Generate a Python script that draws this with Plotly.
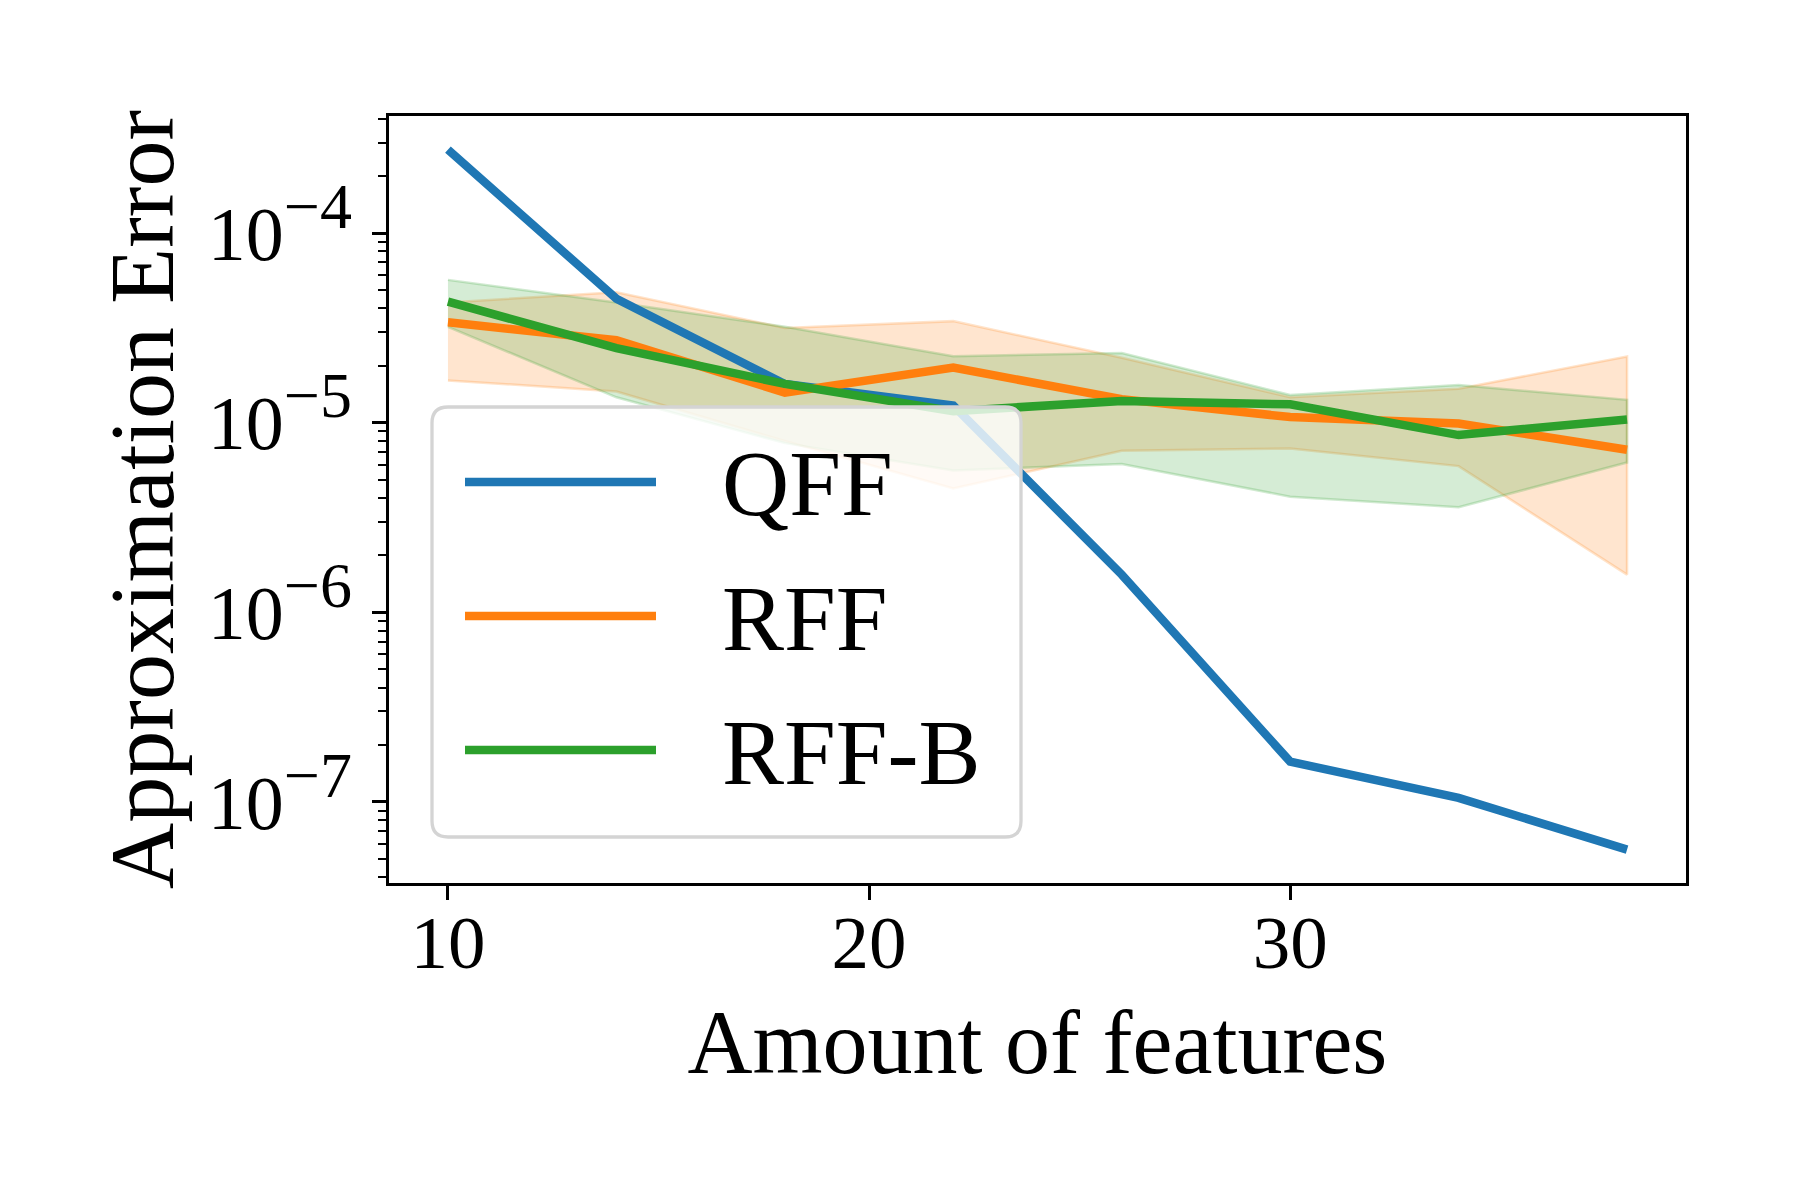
import plotly.graph_objects as go

# ---- data ----
features = [10, 14, 18, 22, 26, 30, 34, 38]

qff_mean = [2.75e-4, 4.5e-5, 1.6e-5, 1.23e-5, 1.58e-6, 1.63e-7, 1.05e-7, 5.6e-8]

rff_mean = [3.38e-5, 2.72e-5, 1.44e-5, 1.95e-5, 1.33e-5, 1.07e-5, 9.9e-6, 7.2e-6]
rff_upper = [4.3e-5, 4.87e-5, 3.16e-5, 3.43e-5, 2.2e-5, 1.36e-5, 1.51e-5, 2.23e-5]
rff_lower = [1.67e-5, 1.46e-5, 8.0e-6, 4.5e-6, 7.1e-6, 7.3e-6, 5.9e-6, 1.58e-6]

rffb_mean = [4.35e-5, 2.47e-5, 1.6e-5, 1.15e-5, 1.3e-5, 1.25e-5, 8.6e-6, 1.04e-5]
rffb_upper = [5.66e-5, 4.3e-5, 3.2e-5, 2.24e-5, 2.33e-5, 1.4e-5, 1.58e-5, 1.32e-5]
rffb_lower = [3.2e-5, 1.36e-5, 7.8e-6, 5.6e-6, 6.06e-6, 4.07e-6, 3.58e-6, 6.16e-6]

series_names = ["QFF", "RFF", "RFF-B"]

x_tick_vals = [10, 20, 30]
x_tick_text = ["10", "20", "30"]
y_tick_vals = [1e-7, 1e-6, 1e-5, 1e-4]
y_tick_exps = ["\u22127", "\u22126", "\u22125", "\u22124"]
y_minor_vals = [m * 10.0 ** k for k in range(-8, -3) for m in range(2, 10)]

BLUE = "#1f77b4"
ORANGE = "#ff7f0e"
GREEN = "#2ca02c"
COLORS = [BLUE, ORANGE, GREEN]
FONT = "Liberation Serif"
LW = 8.5

y_tick_text = ["10<sup><span style='font-size:64px'>%s</span></sup>" % e for e in y_tick_exps]

fig = go.Figure()

# shaded bands
fig.add_trace(go.Scatter(
    x=features + features[::-1], y=rff_upper + rff_lower[::-1],
    fill="toself", fillcolor="rgba(255,127,14,0.2)",
    line=dict(color="rgba(255,127,14,0.22)", width=2.5),
    mode="lines", showlegend=False, hoverinfo="skip"))
fig.add_trace(go.Scatter(
    x=features + features[::-1], y=rffb_upper + rffb_lower[::-1],
    fill="toself", fillcolor="rgba(44,160,44,0.2)",
    line=dict(color="rgba(44,160,44,0.22)", width=2.5),
    mode="lines", showlegend=False, hoverinfo="skip"))

# mean lines
for name, ys, col in zip(series_names, [qff_mean, rff_mean, rffb_mean], COLORS):
    fig.add_trace(go.Scatter(x=features, y=ys, mode="lines", name=name,
                             line=dict(color=col, width=LW), showlegend=False))

# ---- layout geometry ----
OFF = 8
W, H = 1800 - OFF, 1200 - OFF
ML, MT = 381, 108
PW, PH = 1297, 767
MR, MB = W - ML - PW, H - MT - PH


def px(xp):
    return (xp - OFF - ML) / PW


def py(yp):
    return (MT + PH - (yp - OFF)) / PH


# ---- legend (framed box, matplotlib style) ----
bx0, bx1, by0, by1 = px(432), px(1021), py(837), py(407)
rx, ry = 16 / PW, 16 / PH
box_path = (
    f"M{bx0 + rx},{by0} L{bx1 - rx},{by0} Q{bx1},{by0} {bx1},{by0 + ry} "
    f"L{bx1},{by1 - ry} Q{bx1},{by1} {bx1 - rx},{by1} "
    f"L{bx0 + rx},{by1} Q{bx0},{by1} {bx0},{by1 - ry} "
    f"L{bx0},{by0 + ry} Q{bx0},{by0} {bx0 + rx},{by0} Z"
)
shapes = [dict(type="path", path=box_path, xref="paper", yref="paper",
               fillcolor="rgba(255,255,255,0.8)", line=dict(color="#d4d4d4", width=3.3),
               layer="above")]
annotations = []
row_y = [482, 616, 750]
for name, col, ry_px in zip(series_names, COLORS, row_y):
    shapes.append(dict(type="line", xref="paper", yref="paper",
                       x0=px(465), x1=px(656), y0=py(ry_px), y1=py(ry_px),
                       line=dict(color=col, width=8.5), layer="above"))
    annotations.append(dict(text=name, xref="paper", yref="paper", x=px(720), y=py(ry_px + 2),
                            xanchor="left", yanchor="middle", showarrow=False,
                            font=dict(size=93, family=FONT, color="black")))

fig.update_layout(
    width=W, height=H,
    paper_bgcolor="white", plot_bgcolor="white",
    margin=dict(l=ML, r=MR, t=MT, b=MB),
    font=dict(family=FONT, color="black"),
    showlegend=False,
    shapes=shapes,
    annotations=annotations,
)

fig.update_xaxes(
    range=[8.6, 39.4], tickvals=x_tick_vals, ticktext=x_tick_text,
    ticks="outside", ticklen=14, tickwidth=2.7, tickcolor="black",
    showline=True, linecolor="black", linewidth=2.7, mirror=True,
    showgrid=False, zeroline=False, ticklabelstandoff=-22,
    tickfont=dict(size=75, family=FONT),
    title=dict(text="Amount of features", font=dict(size=90, family=FONT), standoff=28),
)
fig.update_yaxes(
    type="log", range=[-7.4275, -3.383], tickvals=y_tick_vals, ticktext=y_tick_text,
    ticks="outside", ticklen=14, tickwidth=2.7, tickcolor="black",
    minor=dict(tickmode="array", tickvals=y_minor_vals, ticks="outside", ticklen=8,
               tickwidth=2, tickcolor="black", showgrid=False),
    showline=True, linecolor="black", linewidth=2.7, mirror=True,
    showgrid=False, zeroline=False, ticklabelstandoff=5,
    tickfont=dict(size=76, family=FONT),
    title=dict(text="Approximation Error", font=dict(size=92, family=FONT), standoff=4),
)

fig.write_html("out.html")
